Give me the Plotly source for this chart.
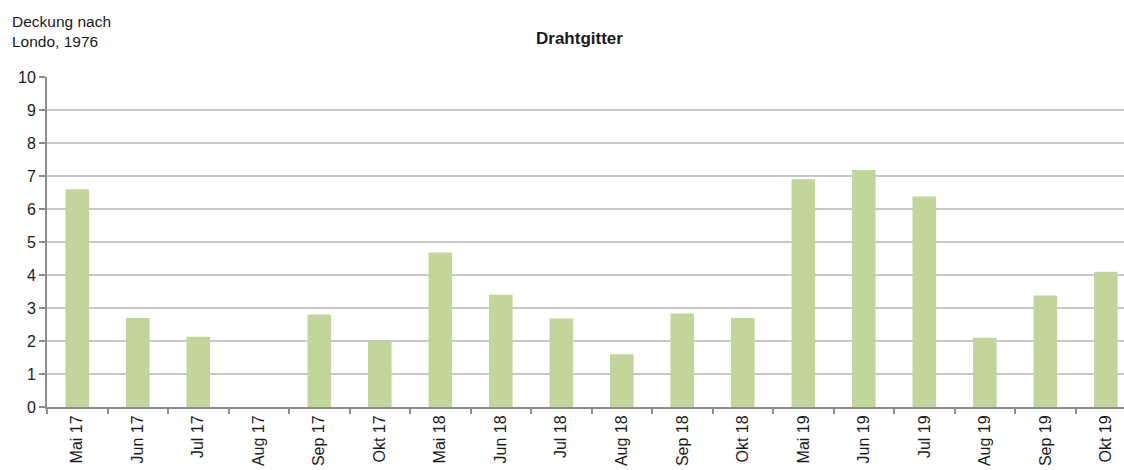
import plotly.graph_objects as go

# Monthly cover values (Londo scale) for the wire-mesh plot
months = ["Mai 17", "Jun 17", "Jul 17", "Aug 17", "Sep 17", "Okt 17",
          "Mai 18", "Jun 18", "Jul 18", "Aug 18", "Sep 18", "Okt 18",
          "Mai 19", "Jun 19", "Jul 19", "Aug 19", "Sep 19", "Okt 19"]
deckung = [6.6, 2.7, 2.13, 0, 2.8, 2.0,
           4.68, 3.4, 2.68, 1.6, 2.83, 2.7,
           6.9, 7.18, 6.38, 2.1, 3.38, 4.1]
y_ticks = list(range(0, 11))

FONT = "Liberation Sans, Arial, Helvetica, sans-serif"
W, H = 1124, 470
ML, MR, MT, MB = 47, 0, 77, 63
PW, PH = W - ML - MR, H - MT - MB

fig = go.Figure(
    go.Bar(
        x=months,
        y=deckung,
        marker=dict(color="#c2d69b", line=dict(width=0)),
        hoverinfo="x+y",
    )
)

fig.update_layout(
    width=W,
    height=H,
    margin=dict(l=ML, r=MR, t=MT, b=MB, pad=0),
    paper_bgcolor="white",
    plot_bgcolor="white",
    bargap=0.61,
    showlegend=False,
    font=dict(family=FONT, size=16, color="#1a1a1a"),
    annotations=[
        dict(
            text="Deckung nach<br>Londo, 1976",
            xref="paper", yref="paper",
            x=(10 - ML) / PW, y=1 + (MT - 11) / PH,
            xanchor="left", yanchor="top", align="left",
            showarrow=False,
            font=dict(family=FONT, size=15.5, color="#1a1a1a"),
        ),
        dict(
            text="<b>Drahtgitter</b>",
            xref="paper", yref="paper",
            x=(579 - ML) / PW, y=1 + (MT - 38) / PH,
            xanchor="center", yanchor="middle",
            showarrow=False,
            font=dict(family=FONT, size=17, color="#1a1a1a"),
        ),
    ],
)

fig.update_xaxes(
    type="category",
    range=[-0.5, 17.3],
    tickangle=-90,
    tickson="boundaries",
    ticks="outside",
    ticklen=5,
    tickwidth=1.5,
    tickcolor="#8c8c8c",
    showline=True,
    linecolor="#8c8c8c",
    linewidth=2,
    showgrid=False,
    tickfont=dict(family=FONT, size=16, color="#1a1a1a"),
    fixedrange=True,
)

fig.update_yaxes(
    range=[0, 10],
    tickvals=y_ticks,
    ticks="outside",
    ticklen=6,
    tickwidth=1.5,
    tickcolor="#8c8c8c",
    showline=True,
    linecolor="#8c8c8c",
    linewidth=2,
    showgrid=True,
    gridcolor="#c8c8c8",
    gridwidth=1.5,
    zeroline=False,
    tickfont=dict(family=FONT, size=16, color="#1a1a1a"),
    fixedrange=True,
)

fig.write_html("out.html", config={"displayModeBar": False})
